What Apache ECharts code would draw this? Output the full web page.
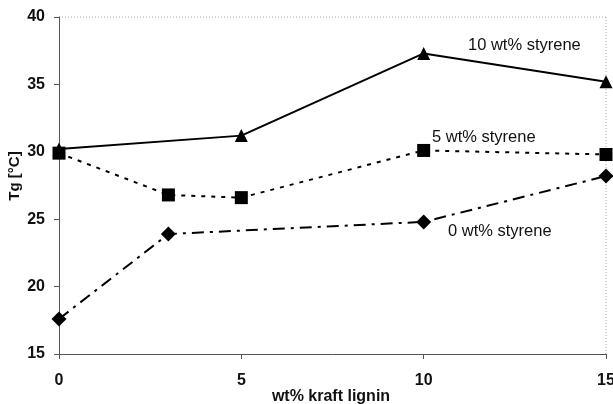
<!DOCTYPE html>
<html>
<head>
<meta charset="utf-8" />
<title>Tg vs kraft lignin</title>
<script src="https://cdn.jsdelivr.net/npm/echarts@6/dist/echarts.min.js"></script>
<style>
html, body { margin: 0; padding: 0; background: #fff; }
#main { width: 613px; height: 404px; }
</style>
</head>
<body>
<div id="main"></div>
<script>
// values
var lignin10 = [0, 5, 10, 15];
var styrene10 = [30.2, 31.2, 37.3, 35.2];
var lignin5 = [0, 3, 5, 10, 15];
var styrene5 = [29.9, 26.8, 26.6, 30.1, 29.8];
var lignin0 = [0, 3, 10, 15];
var styrene0 = [17.6, 23.9, 24.8, 28.2];
var seriesNames = ['10 wt% styrene', '5 wt% styrene', '0 wt% styrene'];
var xTitle = 'wt% kraft lignin';
var yTitle = 'Tg [°C]';

function pairs(xs, ys) {
  return xs.map(function (x, i) { return [x, ys[i]]; });
}

var chart = echarts.init(document.getElementById('main'));
var font = 'Liberation Sans, Arial, sans-serif';

function label(name, x, y) {
  return {
    type: 'text', left: x, top: y,
    style: { text: name, font: '16.5px ' + font, fill: '#111' }
  };
}

var option = {
  animation: false,
  backgroundColor: '#fff',
  grid: { left: 59, right: 7, top: 17, bottom: 50, outerBoundsMode: 'none', containLabel: false },
  xAxis: {
    type: 'value', min: 0, max: 15, interval: 5,
    axisLine: { lineStyle: { color: '#555', width: 1 } },
    axisTick: { show: true, length: 5, inside: false, lineStyle: { color: '#555' } },
    axisLabel: { fontFamily: font, fontWeight: 'bold', fontSize: 16, color: '#111', margin: 19 },
    splitLine: { show: false }
  },
  yAxis: {
    type: 'value', min: 15, max: 40, interval: 5,
    axisLine: { show: true, lineStyle: { color: '#555', width: 1 } },
    axisTick: { show: true, length: 5, lineStyle: { color: '#555' } },
    axisLabel: { fontFamily: font, fontWeight: 'bold', fontSize: 16, color: '#111', margin: 14 },
    splitLine: { show: false }
  },
  graphic: [
    { type: 'line', shape: { x1: 59, y1: 17, x2: 606, y2: 17 }, style: { stroke: '#aaa', lineDash: [1, 2], lineWidth: 1 } },
    { type: 'line', shape: { x1: 606, y1: 17, x2: 606, y2: 354 }, style: { stroke: '#aaa', lineDash: [1, 2], lineWidth: 1 } },
    label(seriesNames[0], 468, 37),
    label(seriesNames[1], 432, 129),
    label(seriesNames[2], 448, 223),
    {
      type: 'text', x: 331, y: 397,
      style: { text: xTitle, font: 'bold 16px ' + font, fill: '#111', align: 'center', verticalAlign: 'middle' }
    },
    {
      type: 'text', x: 15, y: 176, rotation: Math.PI / 2,
      style: { text: yTitle, font: 'bold 15px ' + font, fill: '#111', align: 'center', verticalAlign: 'middle' }
    }
  ],
  series: [
    {
      name: seriesNames[0], type: 'line', data: pairs(lignin10, styrene10),
      symbol: 'triangle', symbolSize: 13,
      itemStyle: { color: '#000' },
      lineStyle: { color: '#000', width: 2, type: 'solid' }
    },
    {
      name: seriesNames[1], type: 'line', data: pairs(lignin5, styrene5),
      symbol: 'rect', symbolSize: 13,
      itemStyle: { color: '#000' },
      lineStyle: { color: '#000', width: 2, type: [4, 6] }
    },
    {
      name: seriesNames[2], type: 'line', data: pairs(lignin0, styrene0),
      symbol: 'diamond', symbolSize: 15,
      itemStyle: { color: '#000' },
      lineStyle: { color: '#000', width: 2, type: [12, 6, 3, 6] }
    }
  ]
};

chart.setOption(option);
</script>
</body>
</html>
